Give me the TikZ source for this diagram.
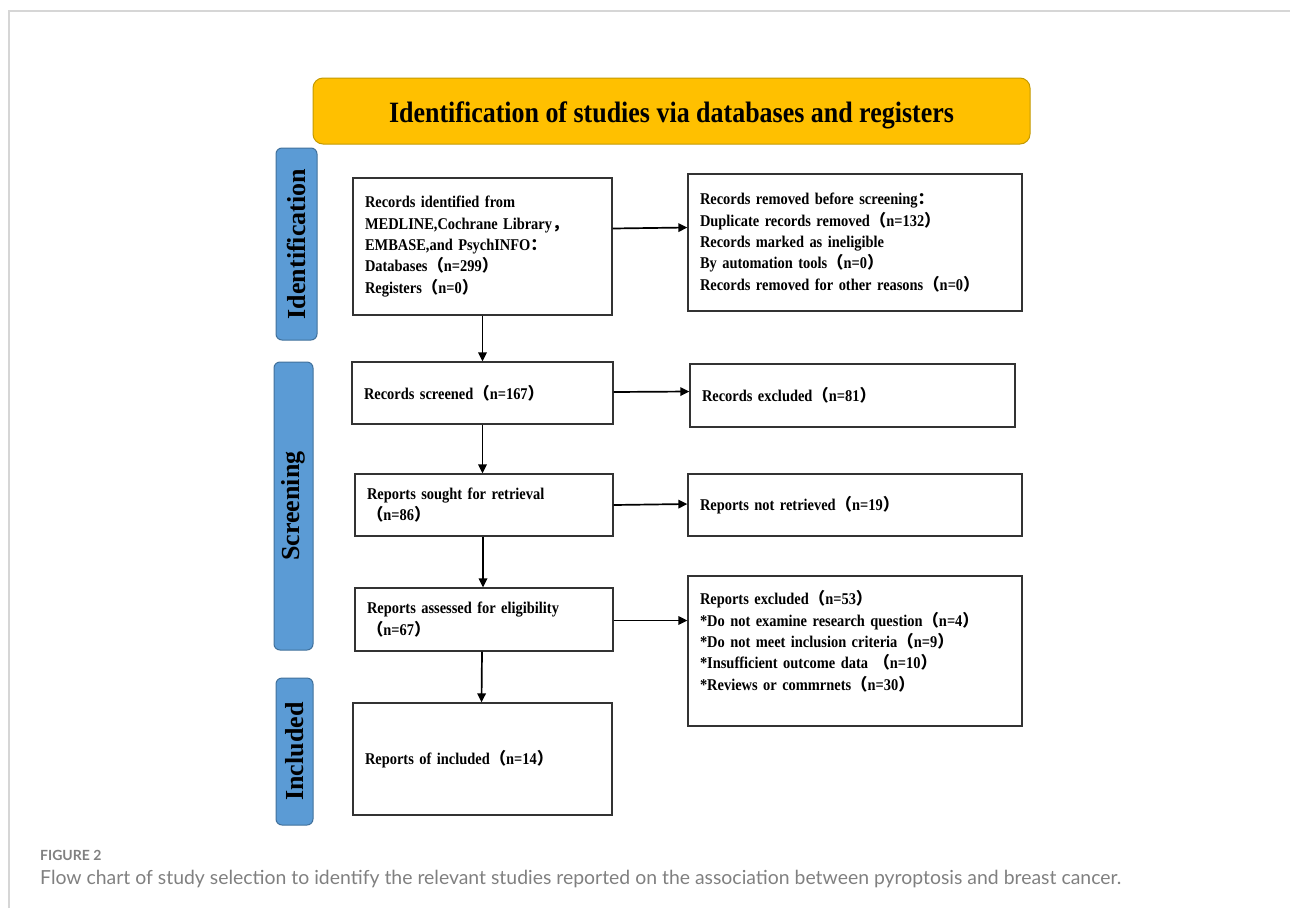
\documentclass[tikz,border=0pt]{standalone}
\usepackage{fontspec}
\setmainfont{Liberation Serif}
\newfontfamily\cserif[FakeStretch=0.88]{Liberation Serif}
\newfontfamily\cjk{Noto Sans CJK SC}
\newfontfamily\capfont{Lato}
\usetikzlibrary{arrows.meta}
\definecolor{gold}{HTML}{FFC000}
\definecolor{golddraw}{HTML}{C49A00}
\definecolor{tabfill}{HTML}{5B9BD5}
\definecolor{tabdraw}{HTML}{41719C}
\definecolor{boxc}{HTML}{333333}
\definecolor{framec}{HTML}{D6D6D6}
\definecolor{capc}{HTML}{808080}
\newcommand{\lp}{{\cjk （}}
\newcommand{\rp}{{\cjk ）}}
\newcommand{\fc}{{\cjk ，}}
\newcommand{\fcol}{{\cjk ：}}
\tikzset{
  fbox/.style={draw=boxc, line width=1.3pt, fill=white, inner xsep=12pt, inner ysep=0pt,
    align=left, font=\cserif\bfseries\fontsize{16.4}{21.3}\selectfont},
  tab/.style={draw=tabdraw, line width=1pt, fill=tabfill, rounded corners=6pt, rotate=90,
    inner sep=0pt, font=\bfseries\fontsize{26}{28}\selectfont},
  arr/.style={line width=1.7pt, draw=black, -{Triangle[length=9pt,width=8.5pt]}},
}
\begin{document}
\begin{tikzpicture}[x=1pt,y=-1pt]
\useasboundingbox (0,0) rectangle (1290,908);
\draw[framec, line width=1.2pt] (9,908) -- (9,11) -- (1290,11);
% header
\node[draw=golddraw, line width=1pt, fill=gold, rounded corners=10pt, minimum width=717pt, minimum height=66pt,
  text height=29pt, text depth=6.5pt,
  font=\cserif\bfseries\fontsize{29.5}{32}\selectfont] (head) at (671.5,111) {Identification of studies via databases and registers};
% tabs
\node[tab, minimum width=192pt, minimum height=41pt] (tI) at (296.5,244) {Identification};
\node[tab, minimum width=288pt, minimum height=39pt] (tS) at (293.5,506) {Screening};
\node[tab, minimum width=147pt, minimum height=37pt] (tN) at (294.5,751.5) {Included};
% left boxes
\node[fbox, text width=235pt, minimum height=137pt] (B1) at (482.5,246.5) {Records identified from\\
MEDLINE,Cochrane Library\fc\\
EMBASE,and PsychINFO\fcol\\
Databases\lp n=299\rp\\
Registers\lp n=0\rp};
\node[fbox, text width=237pt, minimum height=62pt] (B2) at (482.5,393) {Records screened\lp n=167\rp};
\node[fbox, text width=234pt, minimum height=62pt] (B3) at (484,505) {Reports sought for retrieval\\ \lp n=86\rp};
\node[fbox, text width=234pt, minimum height=63pt] (B4) at (484,619.5) {Reports assessed for eligibility\\ \lp n=67\rp};
\node[fbox, text width=235pt, minimum height=112pt] (B5) at (482.5,759) {Reports of included\lp n=14\rp};
% right boxes
\node[fbox, text width=310pt, minimum height=137pt] (R1) at (855,242.5) {Records removed before screening\fcol\\
Duplicate records removed\lp n=132\rp\\
Records marked as ineligible\\
By automation tools\lp n=0\rp\\
Records removed for other reasons\lp n=0\rp};
\node[fbox, text width=301pt, minimum height=63pt] (R2) at (852.5,395.5) {Records excluded\lp n=81\rp};
\node[fbox, text width=310pt, minimum height=62pt] (R3) at (855,505) {Reports not retrieved\lp n=19\rp};
\node[fbox, text width=310pt, minimum height=150pt] (R4) at (855,651) {Reports excluded\lp n=53\rp\\
{*}Do not examine research question\lp n=4\rp\\
{*}Do not meet inclusion criteria\lp n=9\rp\\
{*}Insufficient outcome data \lp n=10\rp\\
{*}Reviews or commrnets\lp n=30\rp\\ \mbox{}};
% arrows
\draw[arr] (B1.south) -- (B1.south |- B2.north);
\draw[arr] (B2.south) -- (B2.south |- B3.north);
\draw[arr] ([xshift=-1pt]B3.south) -- ([xshift=-1pt]B3.south |- B4.north);
\draw[arr] ([xshift=-2pt]B4.south) -- ([xshift=-1pt]B5.north);
\draw[arr] ([yshift=18pt]B1.east) -- ([yshift=15pt]R1.west);
\draw[arr] ([yshift=1pt]B2.east) -- ([yshift=4pt]R2.west);
\draw[arr] (B3.east) -- ([yshift=1pt]R3.west);
\draw[arr] ([yshift=-1pt]B4.east) -- ([yshift=-1pt]B4.east -| R4.west);
% caption
\node[anchor=base west, inner sep=0pt, text=capc, font=\capfont\bfseries\fontsize{14}{16}\selectfont] (fig) at (40,860) {FIGURE 2};
\node[anchor=base west, inner sep=0pt, text=capc, font=\capfont\fontsize{19.4}{22}\selectfont] (cap) at (40,884) {Flow chart of study selection to identify the relevant studies reported on the association between pyroptosis and breast cancer.};
\end{tikzpicture}
\end{document}
